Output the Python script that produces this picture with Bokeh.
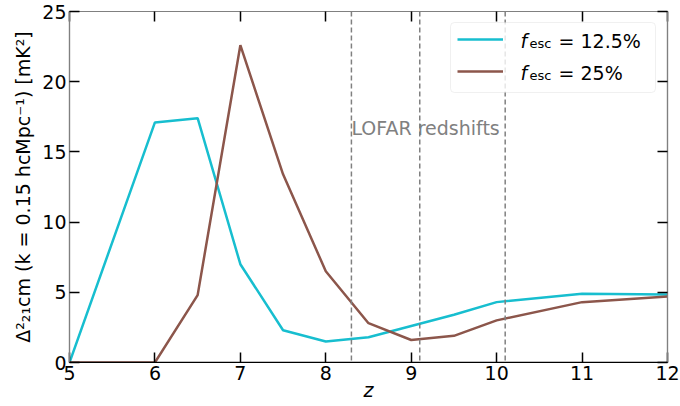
from bokeh.plotting import figure
from bokeh.models import (Legend, LegendItem, Label, Span, LinearAxis,
                          FixedTicker, Range1d, BoxAnnotation)
from bokeh.embed import file_html
from bokeh.resources import INLINE

# ---- data ----
z = [5, 6, 6.5, 7, 7.5, 8, 8.5, 9, 9.5, 10, 11, 12]
delta_fesc_12p5 = [0.0, 17.1, 17.4, 7.0, 2.3, 1.5, 1.8, 2.6, 3.4, 4.3, 4.9, 4.85]
delta_fesc_25 = [0.0, 0.0, 4.8, 22.6, 13.4, 6.5, 2.8, 1.6, 1.9, 3.0, 4.3, 4.7]
lofar_z = [8.3, 9.1, 10.1]
x_ticks = [5, 6, 7, 8, 9, 10, 11, 12]
y_ticks = [0, 5, 10, 15, 20, 25]
legend_labels = ["12.5%", "25%"]

FONT = "DejaVu Sans"
CYAN = "#17becf"
BROWN = "#8c564b"
SPINE = "#808080"

p = figure(width=680, height=406, output_backend="svg", toolbar_location=None,
           x_range=Range1d(5, 12), y_range=Range1d(0, 25),
           min_border_left=69, min_border_right=13, min_border_top=11,
           min_border_bottom=44)
p.xgrid.visible = False
p.ygrid.visible = False
p.outline_line_color = SPINE
p.outline_line_width = 1.2
p.background_fill_color = "white"
p.border_fill_color = "white"


def style_axis(ax, ticks, show_labels=True):
    ax.ticker = FixedTicker(ticks=ticks)
    ax.major_tick_in = 10
    ax.major_tick_out = 0
    ax.major_tick_line_color = "black"
    ax.major_tick_line_width = 1.5
    ax.minor_tick_line_color = None
    ax.axis_line_color = SPINE
    ax.axis_line_width = 1.2
    if show_labels:
        ax.major_label_text_font = FONT
        ax.major_label_text_font_size = "19px"
        ax.major_label_text_color = "black"
        ax.major_label_standoff = 3
    else:
        ax.major_label_text_color = None
        ax.major_label_text_font_size = "1px"
        ax.major_label_standoff = 0


style_axis(p.xaxis[0], x_ticks)
style_axis(p.yaxis[0], y_ticks)
p.xaxis[0].axis_line_color = "black"
p.xaxis.axis_label = "z"
p.xaxis.axis_label_text_font = FONT
p.xaxis.axis_label_text_font_style = "italic"
p.xaxis.axis_label_text_font_size = "19px"
p.xaxis.axis_label_text_color = "black"
p.xaxis.axis_label_standoff = -4
p.yaxis.axis_label = "Δ²₂₁cm (k = 0.15 hcMpc⁻¹) [mK²]"
p.yaxis.axis_label_text_font = FONT
p.yaxis.axis_label_text_font_style = "normal"
p.yaxis.axis_label_text_font_size = "19px"
p.yaxis.axis_label_text_color = "black"
p.yaxis.axis_label_standoff = 5

top_ax = LinearAxis()
style_axis(top_ax, x_ticks, show_labels=False)
right_ax = LinearAxis()
style_axis(right_ax, y_ticks, show_labels=False)
p.add_layout(top_ax, "above")
p.add_layout(right_ax, "right")

# LOFAR redshift markers
for zl in lofar_z:
    p.add_layout(Span(location=zl, dimension="height", line_color="gray",
                      line_dash="5 3", line_width=1.5))
p.add_layout(Label(x=lofar_z[0], y=16.7, text="LOFAR redshifts",
                   text_font=FONT, text_font_size="19px", text_color="gray",
                   text_baseline="middle", text_align="left"))

r1 = p.line(z, delta_fesc_12p5, line_color=CYAN, line_width=2.5)
r2 = p.line(z, delta_fesc_25, line_color=BROWN, line_width=2.5)

p.add_layout(Span(location=0, dimension="width", line_color="black",
                  line_width=1.5))

# legend frame (semi-transparent, rounded)
p.add_layout(BoxAnnotation(left=381, right=586, top=340, bottom=270,
                           left_units="screen", right_units="screen",
                           top_units="screen", bottom_units="screen",
                           fill_color="white", fill_alpha=0.8,
                           line_color="#cccccc", line_width=1,
                           border_radius=4, level="annotation"))

legend = Legend(items=[LegendItem(label=" ", renderers=[r1]),
                       LegendItem(label=" ", renderers=[r2])],
                location=(388, 279), margin=0, padding=5, spacing=8,
                glyph_width=46, glyph_height=24, label_height=24,
                label_standoff=17, label_width=130,
                border_line_color=None, background_fill_alpha=0,
                label_text_font_size="10px")
p.add_layout(legend)

# legend texts: f_esc = value
for i, lab in enumerate(legend_labels):
    base = 322 - 32 * i
    p.add_layout(Label(x=451, y=base, x_units="screen", y_units="screen",
                       text="f", text_font=FONT, text_font_style="italic",
                       text_font_size="19px", text_baseline="alphabetic",
                       text_color="black"))
    p.add_layout(Label(x=460, y=base - 3, x_units="screen", y_units="screen",
                       text="esc", text_font=FONT, text_font_size="13px",
                       text_baseline="alphabetic", text_color="black"))
    p.add_layout(Label(x=489, y=base, x_units="screen", y_units="screen",
                       text="= " + lab, text_font=FONT, text_font_size="19px",
                       text_baseline="alphabetic", text_color="black"))

open("out.html", "w").write(file_html(p, INLINE))
